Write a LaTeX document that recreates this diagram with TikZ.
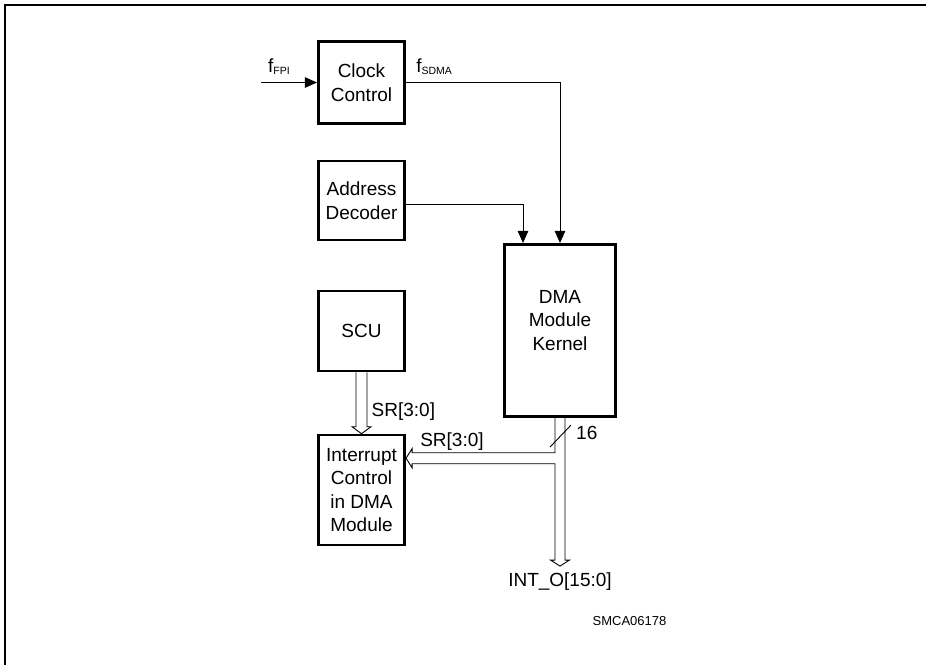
\documentclass[tikz,border=0pt]{standalone}
\usepackage{fontspec}
\setmainfont{Liberation Sans}
\usetikzlibrary{positioning,arrows.meta,calc}

\newcommand{\subtxt}[1]{\raisebox{-2pt}{\fontsize{10.5}{11}\selectfont #1}}

\begin{document}
\begin{tikzpicture}[
      x=1pt, y=-1pt,
      font=\fontsize{19}{23.5}\selectfont,
      blk/.style={draw, line width=2.6pt, minimum width=86.5pt,
                  align=center, inner sep=0pt},
      sig/.style={-{Triangle[length=12pt, width=10.5pt]}, line width=0.9pt},
      bus/.style={line width=0.9pt, line join=miter},
      lbl/.style={inner sep=0pt},
    ]
    \useasboundingbox (0,0) rectangle (926,665);

    % frame
    \draw[line width=2pt] (4.5,665) -- (4.5,4.5) -- (926,4.5);

    \node[blk, minimum height=82pt] (clk)  at (361.5,82.5)  {Clock\\Control};
    \node[blk, minimum height=79pt] (addr) at (361.5,200.5) {Address\\Decoder};
    \node[blk, minimum height=80pt] (scu)  at (361.5,331)   {SCU};
    \node[blk, minimum height=110pt] (irq) at (361.5,490)
          {Interrupt\\Control\\in DMA\\Module};
    \node[blk, minimum width=111.5pt, minimum height=172.5pt,
          label={[align=center, yshift=10pt]center:DMA\\Module\\Kernel}]
          (dma) at (560,330.5) {};

    \coordinate (fin)  at (261,82.5);
    \coordinate (srin) at ($(irq.north east)+(0,24.5)$);
    \coordinate (jct)  at (dma.south |- srin);
    \coordinate (out)  at ($(dma.south)+(0,148)$);

    % clock and address inputs
    \draw[sig] (fin) -- (clk.west);
    \draw[sig] (clk.east) -| (dma.north);
    \draw[sig] ($(addr.east)+(0,3.5)$) -| ($(dma.north)+(-37,0)$);

    \node[lbl, anchor=base west] (ffpi)  at ($(fin)+(7,-10.5)$)       {f\subtxt{FPI}};
    \node[lbl, anchor=base west] (fsdma) at ($(clk.east)+(10,-10.5)$) {f\subtxt{SDMA}};

    % SCU -> interrupt control bus
    \draw[bus] ($(scu.south)+(-5.5,0)$) -- ($(irq.north)+(-5.5,-7)$) -- ++(-4,0)
          -- (irq.north) -- ($(irq.north)+(9.5,-7)$) -- ++(-4,0)
          -- ($(scu.south)+(5.5,0)$);
    \node[lbl, anchor=west] (sr1) at ($(scu.south)+(10,39)$) {SR[3:0]};

    % kernel output bus with branch
    \draw[bus] ($(dma.south)+(-5,0)$) -- ($(jct)+(-5,-5.5)$) -- ($(srin)+(6,-5.5)$)
          -- ++(0,-4) -- (srin) -- ($(srin)+(6,9.5)$) -- ++(0,-4)
          -- ($(jct)+(-5,5.5)$) -- ($(out)+(-5,-6)$) -- ++(-4.5,0) -- (out)
          -- ($(out)+(9.5,-6)$) -- ++(-4.5,0) -- ($(dma.south)+(5,0)$);
    \draw[line width=0.9pt] ($(dma.south)+(-10,29)$) -- ($(dma.south)+(11,7)$);
    \node[lbl, anchor=west] (width) at ($(dma.south)+(16,15)$) {16};
    \node[lbl] (sr2) at ($(jct)+(-108,-17)$) {SR[3:0]};
    \node[lbl] (into) at ($(out)+(0,16)$) {INT\_O[15:0]};

    \node[lbl, font=\fontsize{13}{15}\selectfont] (code) at (629.5,621) {SMCA06178};

  \end{tikzpicture}
\end{document}
